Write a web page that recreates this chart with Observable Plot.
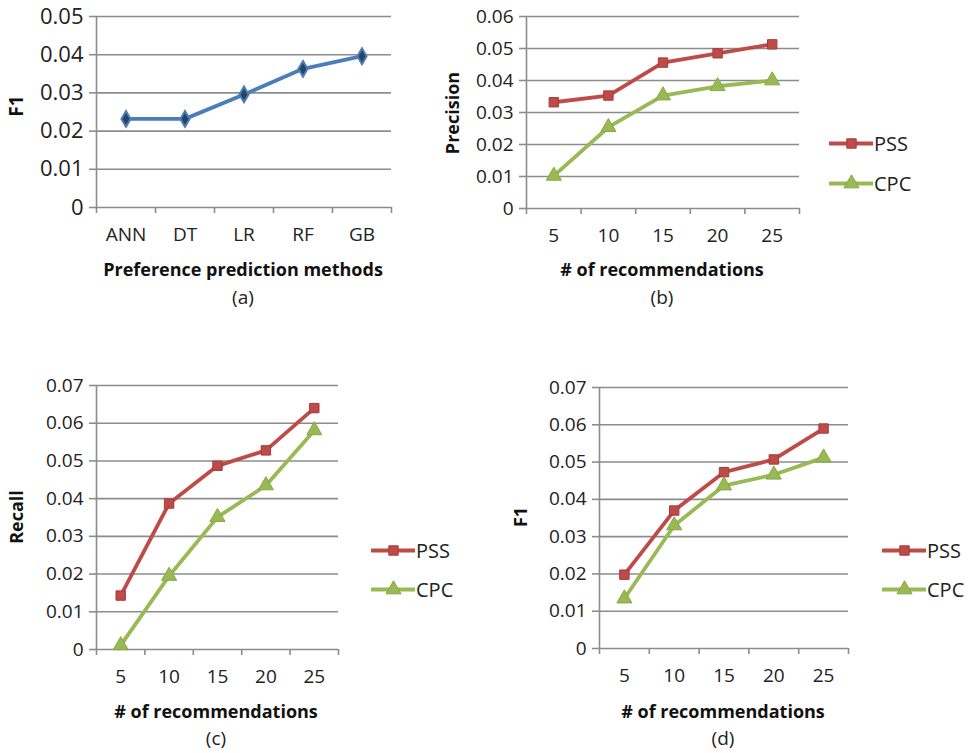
<!DOCTYPE html>
<html>
<head>
<meta charset="utf-8">
<script src="https://cdn.jsdelivr.net/npm/d3@7"></script>
<script src="https://cdn.jsdelivr.net/npm/@observablehq/plot@0.6"></script>
<style>
  html, body { margin: 0; padding: 0; background: #fff; }
  #page { position: relative; width: 969px; height: 753px; overflow: hidden; font-family: "Open Sans", sans-serif; color: #222; }
  .panel { position: absolute; }
  .txt { position: absolute; transform: translate(-50%, -50%); white-space: nowrap; }
  .title { font-weight: bold; font-size: 18px; color: #111; }
  .ytitle { font-size: 19px; }
  .cap { font-size: 19px; color: #222; }
  .ylab { transform: translate(-50%, -50%) rotate(-90deg); }
  .legend { position: absolute; display: flex; align-items: center; font-size: 20px; color: #222; }
  .legend svg { display: block; margin-right: 1px; }
  .bigy g[aria-label="y-axis tick label"] text { font-size: 22px; }
</style>
</head>
<body>
<div id="page"></div>
<script>
// ---------- data ----------
const methods = ["ANN", "DT", "LR", "RF", "GB"];
const f1Methods = [0.0232, 0.0232, 0.0296, 0.0363, 0.0396];

const numRecs = [5, 10, 15, 20, 25];
const precisionPSS = [0.0332, 0.0353, 0.0456, 0.0485, 0.0513];
const precisionCPC = [0.0102, 0.0254, 0.0353, 0.0382, 0.0400];
const recallPSS = [0.0143, 0.0387, 0.0487, 0.0528, 0.0640];
const recallCPC = [0.0011, 0.0195, 0.0351, 0.0435, 0.0581];
const f1PSS = [0.0198, 0.0370, 0.0473, 0.0507, 0.0590];
const f1CPC = [0.0134, 0.0330, 0.0437, 0.0466, 0.0512];

const seriesNames = ["PSS", "CPC"];
const yTicksA = [0, 0.01, 0.02, 0.03, 0.04, 0.05];
const yTicksB = [0, 0.01, 0.02, 0.03, 0.04, 0.05, 0.06];
const yTicksCD = [0, 0.01, 0.02, 0.03, 0.04, 0.05, 0.06, 0.07];

// ---------- styles ----------
const BLUE = "#4a7ebb", RED = "#be4b48", GREEN = "#98b954", GRID = "#8c8c8c";
const seriesColor = {PSS: RED, CPC: GREEN};
const seriesSymbol = {PSS: "square", CPC: "triangle"};
const seriesR = {PSS: 5.3, CPC: 5.6};
const seriesEdge = {PSS: "#a33c39", CPC: "#86a846"};
const FONT = "Open Sans, sans-serif";

const page = document.getElementById("page");
const fmtY = d => d === 0 ? "0" : d3.format(".2f")(d);

function place(el, left, top, cls) {
  el.classList.add("panel");
  if (cls) el.classList.add(cls);
  el.style.left = left + "px";
  el.style.top = top + "px";
  page.appendChild(el);
}
function text(cls, str, x, y) {
  const d = document.createElement("div");
  d.className = "txt " + cls;
  d.textContent = str;
  d.style.left = x + "px";
  d.style.top = y + "px";
  page.appendChild(d);
}
function legend(x, y, name) {
  const d = document.createElement("div");
  d.className = "legend";
  d.style.left = x + "px";
  d.style.top = (y - 14) + "px";
  const sw = Plot.plot({
    width: 44, height: 28, margin: 0,
    x: {domain: [0, 2], axis: null}, y: {domain: [0, 1], axis: null},
    marks: [
      Plot.line([[0, 0.5], [2, 0.5]], {stroke: seriesColor[name], strokeWidth: 3.8}),
      Plot.dot([[1, 0.5]], {symbol: seriesSymbol[name], r: seriesR[name], fill: seriesColor[name], stroke: seriesEdge[name], strokeWidth: 1})
    ]
  });
  d.appendChild(sw);
  const s = document.createElement("span");
  s.textContent = name;
  d.appendChild(s);
  page.appendChild(d);
}

// ---------- panel (a) ----------
{
  const data = methods.map((m, i) => ({i: i + 1, m, v: f1Methods[i]}));
  const edges = d3.range(0.5, methods.length + 1, 1);
  const p = Plot.plot({
    width: 440, height: 310,
    marginLeft: 96, marginRight: 49, marginTop: 16, marginBottom: 103,
    style: {fontFamily: FONT, fontSize: "19px", color: "#222", background: "transparent"},
    x: {domain: [0.5, methods.length + 0.5]},
    y: {domain: [0, 0.05]},
    marks: [
      Plot.ruleY(yTicksA, {stroke: GRID, strokeWidth: 1.6}),
      Plot.ruleX([0.5], {stroke: GRID, strokeWidth: 1.6}),
      Plot.axisY({ticks: yTicksA, tickFormat: fmtY, tickSize: 7, tickPadding: 6, stroke: GRID, label: null, strokeWidth: 1.6}),
      Plot.axisX({ticks: edges, tickFormat: () => "", tickSize: 6, stroke: GRID, label: null, strokeWidth: 1.6}),
      Plot.axisX({ticks: data.map(d => d.i), tickFormat: i => methods[i - 1], tickSize: 0, tickPadding: 20, label: null}),
      Plot.line(data, {x: "i", y: "v", stroke: BLUE, strokeWidth: 3.8}),
      Plot.dot(data, {x: "i", y: "v", symbol: "diamond", r: 4.8, fill: "#2a4460", stroke: BLUE, strokeWidth: 2})
    ]
  });
  place(p, 0, 0, "bigy");
  text("title ylab ytitle", "F1", 16, 106);
  text("title", "Preference prediction methods", 243, 269);
  text("cap", "(a)", 243, 297);
}

// ---------- generic two-series panel ----------
function twoSeries({left, top, width, height, mL, mR, mT, mB, yMax, yTicks, pss, cpc}) {
  const data = [];
  numRecs.forEach((n, i) => {
    data.push({n, s: "PSS", v: pss[i]});
    data.push({n, s: "CPC", v: cpc[i]});
  });
  const edges = d3.range(2.5, 28, 5);
  const p = Plot.plot({
    width, height,
    marginLeft: mL, marginRight: mR, marginTop: mT, marginBottom: mB,
    style: {fontFamily: FONT, fontSize: "19px", color: "#222", background: "transparent"},
    x: {domain: [2.5, 27.5]},
    y: {domain: [0, yMax]},
    marks: [
      Plot.ruleY(yTicks, {stroke: GRID, strokeWidth: 1.6}),
      Plot.ruleX([2.5], {stroke: GRID, strokeWidth: 1.6}),
      Plot.axisY({ticks: yTicks, tickFormat: fmtY, tickSize: 7, tickPadding: 6, stroke: GRID, label: null, strokeWidth: 1.6}),
      Plot.axisX({ticks: edges, tickFormat: () => "", tickSize: 6, stroke: GRID, label: null, strokeWidth: 1.6}),
      Plot.axisX({ticks: numRecs, tickFormat: d => String(d), tickSize: 0, tickPadding: 20, label: null}),
      Plot.line(data, {x: "n", y: "v", z: "s", stroke: d => seriesColor[d.s], strokeWidth: 3.8}),
      Plot.dot(data.filter(d => d.s === "PSS"), {x: "n", y: "v", symbol: "square", r: seriesR.PSS, fill: RED, stroke: seriesEdge.PSS, strokeWidth: 1}),
      Plot.dot(data.filter(d => d.s === "CPC"), {x: "n", y: "v", symbol: "triangle", r: seriesR.CPC, fill: GREEN, stroke: seriesEdge.CPC, strokeWidth: 1})
    ]
  });
  place(p, left, top);
}

// ---------- panel (b) ----------
twoSeries({left: 420, top: 0, width: 549, height: 310, mL: 106, mR: 170, mT: 16, mB: 102,
  yMax: 0.06, yTicks: yTicksB, pss: precisionPSS, cpc: precisionCPC});
text("title ylab", "Precision", 452, 113);
text("title", "# of recommendations", 662, 269);
text("cap", "(b)", 662, 297);
legend(829, 143, "PSS");
legend(829, 183, "CPC");

// ---------- panel (c) ----------
twoSeries({left: 0, top: 360, width: 480, height: 393, mL: 96, mR: 142, mT: 25, mB: 104,
  yMax: 0.07, yTicks: yTicksCD, pss: recallPSS, cpc: recallCPC});
text("title ylab", "Recall", 16, 517);
text("title", "# of recommendations", 216, 711);
text("cap", "(c)", 216, 738);
legend(371, 550, "PSS");
legend(371, 589, "CPC");

// ---------- panel (d) ----------
twoSeries({left: 490, top: 360, width: 479, height: 393, mL: 109, mR: 121, mT: 27, mB: 105,
  yMax: 0.07, yTicks: yTicksCD, pss: f1PSS, cpc: f1CPC});
text("title ylab", "F1", 520, 517);
text("title", "# of recommendations", 723, 711);
text("cap", "(d)", 723, 738);
legend(882, 550, "PSS");
legend(882, 589, "CPC");
</script>
</body>
</html>
